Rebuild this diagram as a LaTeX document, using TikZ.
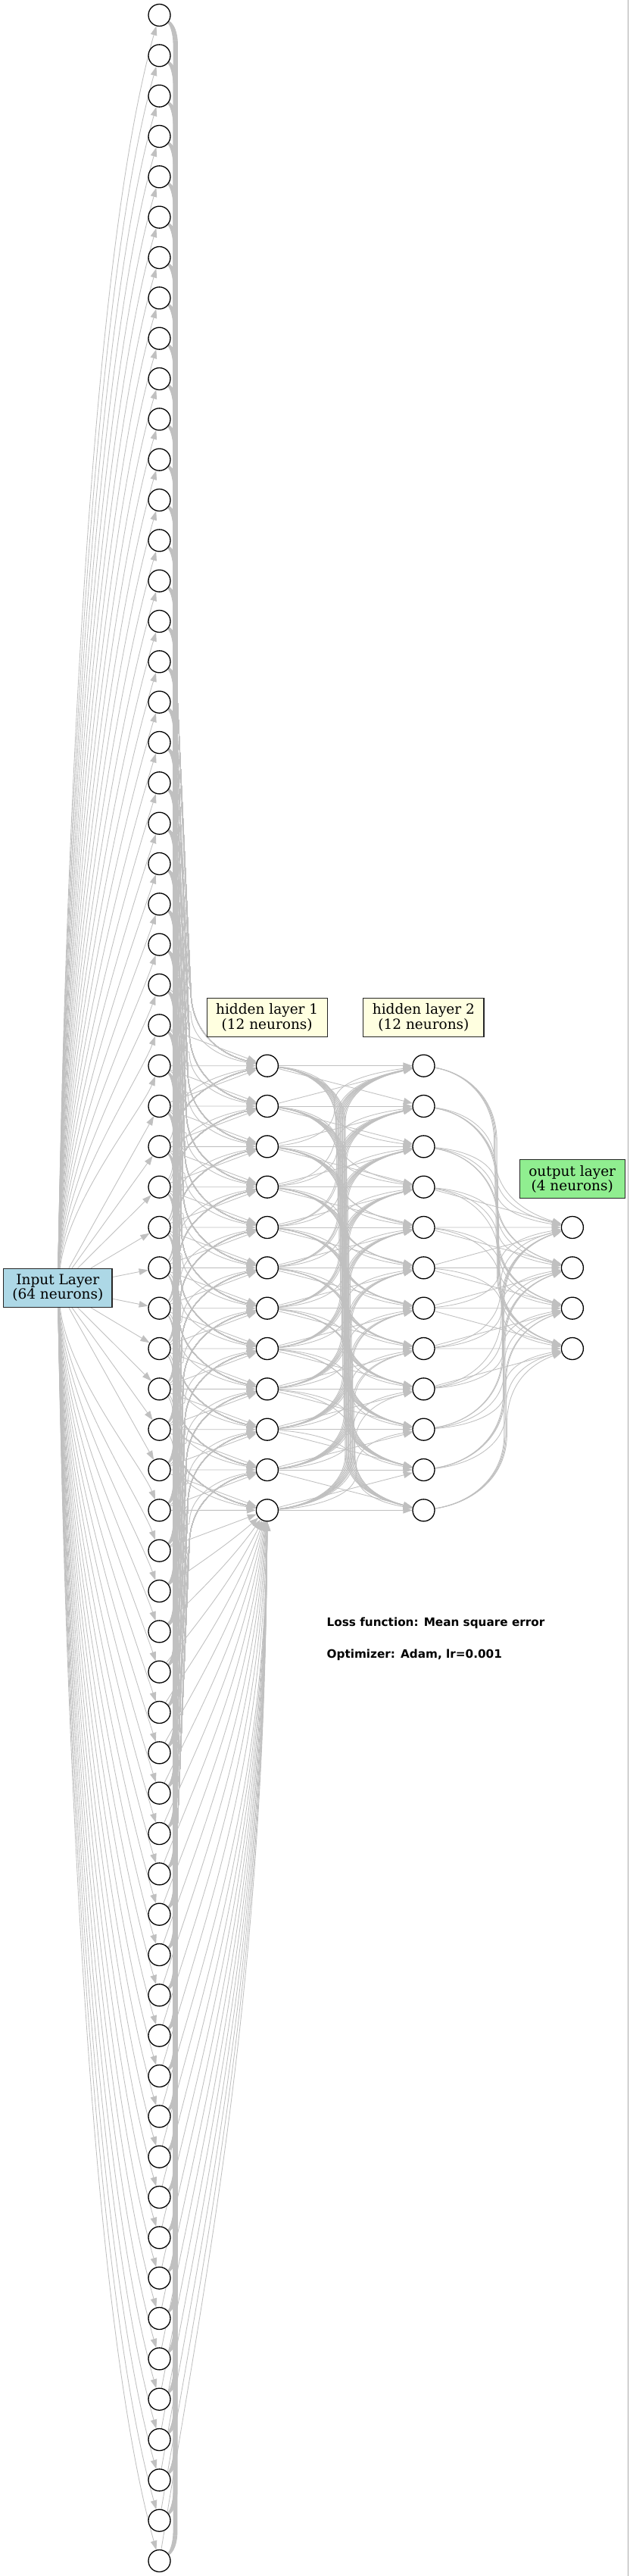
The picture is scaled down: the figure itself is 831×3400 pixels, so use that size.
\documentclass[tikz,border=0pt]{standalone}
\usepackage{fontspec}
\usepackage{graphicx}
\usetikzlibrary{arrows.meta,calc}
\newfontfamily\lblfont{DejaVu Serif}
\newfontfamily\notefont{DejaVu Sans}
\definecolor{edgecol}{RGB}{192,192,192}
\definecolor{inblue}{RGB}{173,216,230}
\definecolor{hidyellow}{RGB}{255,255,224}
\definecolor{outgreen}{RGB}{144,238,144}
\definecolor{framecol}{RGB}{170,170,170}
\pgfdeclarelayer{back}
\pgfdeclarelayer{bg}
\pgfsetlayers{back,bg,main}
\begin{document}
\begin{tikzpicture}[x=1pt,y=-1pt,
  neuron/.style={circle,draw=black,line width=1.3pt,fill=white,minimum size=29pt,inner sep=0pt},
  layerbox/.style={draw=black!85,line width=1.2pt,minimum height=51pt,inner sep=0pt,align=center,font=\lblfont\fontsize{18.5}{19.5}\selectfont},
  edge/.style={draw=edgecol,line width=0.85pt,-{Triangle[length=12pt,width=8.5pt]}},
  note/.style={anchor=base west,inner sep=0pt,font=\notefont\bfseries\fontsize{15.25}{18}\selectfont}
]
\useasboundingbox (0,0) rectangle (831,3400);
\begin{pgfonlayer}{back}
\fill[white] (0,0) rectangle (831,3400);
\draw[framecol,line width=1.2pt] (829.6,0) -- (829.6,3400);
\end{pgfonlayer}

% neurons
\foreach \i in {0,...,63} \node[neuron] (in\i) at (210.5,{20+53.3333*\i}) {};
\foreach \j in {0,...,11} {
  \node[neuron] (h\j) at (352.9,{1406.667+53.3333*\j}) {};
  \node[neuron] (g\j) at (559.5,{1406.667+53.3333*\j}) {};
}
\foreach \k in {0,...,3} \node[neuron] (o\k) at (755.9,{1620+53.3333*\k}) {};

% layer labels
\node[layerbox,fill=inblue,minimum width=143.3pt] (lbl) at (76.35,1699.8) {Input Layer\\(64 neurons)};
\node[layerbox,fill=hidyellow,minimum width=159.2pt] (lh1) at (352.7,1342.7) {hidden layer 1\\(12 neurons)};
\node[layerbox,fill=hidyellow,minimum width=159.2pt] (lh2) at (559.4,1342.7) {hidden layer 2\\(12 neurons)};
\node[layerbox,fill=outgreen,minimum width=138.8pt] (lo) at (755.7,1556.2) {output layer\\(4 neurons)};

\node[note] (loss) at (431.5,2146.7) {Loss function: Mean square error};
\node[note] (opt) at (431.5,2188.5) {Optimizer: Adam, lr=0.001};

\begin{pgfonlayer}{bg}
% label -> input neurons
\foreach \i in {0,...,63} {
  \pgfmathsetmacro\vyi{20+53.3333*\i}
  \pgfmathsetmacro\vdy{\vyi-1699.8}
  \pgfmathsetmacro\vady{abs(\vdy)}
  \ifdim\vady pt<250pt
    \draw[edge] (lbl) -- (in\i);
  \else
    \pgfmathsetmacro\vsg{\vdy/\vady}
    \pgfmathsetmacro\vH{\vady-39.5}
    \pgfmathsetmacro\vsx{76.35+134.15*25.5/\vady}
    \draw[edge] (lbl) .. controls ({\vsx+0.005*\vH},{1699.8+\vsg*(25.5+0.35*\vH)}) and ({200-0.049*\vH},{\vyi-\vsg*(10+0.19*\vH)}) .. (in\i);
  \fi
}
% input -> hidden 1
\foreach \i in {0,...,63} {
  \pgfmathsetmacro\vya{20+53.3333*\i}
  \foreach \j in {0,...,11} {
    \pgfmathtruncatemacro\vdd{\i-26-\j}
    \pgfmathsetmacro\vyb{1406.667+53.3333*\j}
    \ifnum\vdd<-1
      \pgfmathsetmacro\vdist{\vyb-\vya}
      \pgfmathsetmacro\vk{min(1,\vdist/150)}
      \pgfmathsetmacro\vA{40*\vk}
      \pgfmathsetmacro\vR{100*\vk}
      \pgfmathsetmacro\vxs{229+0.5*(11-\j)}
      \pgfmathsetmacro\vxe{230+2*(11-\j)}
      \pgfmathsetmacro\vym{max(\vya+\vA,\vyb-\vR-380)}
      \draw[edge] (in\i) .. controls ({\vxs-5},{\vya+0.3*\vA}) and (\vxs,{\vya+0.55*\vA}) .. (\vxs,{\vya+\vA}) -- (\vxs,\vym) -- (\vxe,{\vyb-\vR}) .. controls (\vxe,{\vyb-0.45*\vR}) and (290,{\vyb-0.15*\vR}) .. (h\j);
    \else
      \ifnum\vdd>1
        \ifnum\j=11
          \pgfmathsetmacro\vdist{\vya-1993.333}
          \pgfmathsetmacro\vw{min(1,\vdist/800)}
          \draw[edge] (in\i) .. controls ({253.2+25*\vw},{\vya-0.3*\vdist}) and ({352.9-64.1*(1-\vw)-3*\vw},{1993.333+0.45*\vdist}) .. (h\j);
        \else
          \pgfmathsetmacro\vdist{\vya-\vyb}
          \pgfmathsetmacro\vk{min(1,\vdist/150)}
          \pgfmathsetmacro\vA{40*\vk}
          \pgfmathsetmacro\vR{100*\vk}
          \pgfmathsetmacro\vxs{229+0.5*\j}
          \pgfmathsetmacro\vxe{230+2*\j}
          \pgfmathsetmacro\vym{min(\vya-\vA,\vyb+\vR+380)}
          \draw[edge] (in\i) .. controls ({\vxs-5},{\vya-0.3*\vA}) and (\vxs,{\vya-0.55*\vA}) .. (\vxs,{\vya-\vA}) -- (\vxs,\vym) -- (\vxe,{\vyb+\vR}) .. controls (\vxe,{\vyb+0.45*\vR}) and (290,{\vyb+0.15*\vR}) .. (h\j);
        \fi
      \else
        \draw[edge] (in\i) -- (h\j);
      \fi
    \fi
  }
}
% hidden 1 -> hidden 2
\foreach \a in {0,...,11} {
  \pgfmathsetmacro\vya{1406.667+53.3333*\a}
  \foreach \b in {0,...,11} {
    \pgfmathtruncatemacro\vdd{\b-\a}
    \pgfmathsetmacro\vyb{1406.667+53.3333*\b}
    \pgfmathsetmacro\vxm{456+1.6*(\a+\b-11)}
    \ifnum\vdd>1
      \pgfmathsetmacro\vk{min(1,(\vyb-\vya)/165)}
      \pgfmathsetmacro\vR{75*\vk}
      \draw[edge] (h\a) .. controls ({367.4+0.55*(\vxm-367.4)},{\vya+0.1*\vR}) and (\vxm,{\vya+0.45*\vR}) .. (\vxm,{\vya+\vR}) -- (\vxm,{\vyb-\vR}) .. controls (\vxm,{\vyb-0.45*\vR}) and ({545-0.55*(545-\vxm)},{\vyb-0.2*\vR}) .. (g\b);
    \else
      \ifnum\vdd<-1
        \pgfmathsetmacro\vk{min(1,(\vya-\vyb)/165)}
        \pgfmathsetmacro\vR{75*\vk}
        \draw[edge] (h\a) .. controls ({367.4+0.55*(\vxm-367.4)},{\vya-0.1*\vR}) and (\vxm,{\vya-0.45*\vR}) .. (\vxm,{\vya-\vR}) -- (\vxm,{\vyb+\vR}) .. controls (\vxm,{\vyb+0.45*\vR}) and ({545-0.55*(545-\vxm)},{\vyb+0.2*\vR}) .. (g\b);
      \else
        \draw[edge] (h\a) -- (g\b);
      \fi
    \fi
  }
}
% hidden 2 -> output
\foreach \a in {0,...,11} {
  \pgfmathsetmacro\vya{1406.667+53.3333*\a}
  \foreach \k in {0,...,3} {
    \pgfmathtruncatemacro\vdd{4+\k-\a}
    \pgfmathsetmacro\vyb{1620+53.3333*\k}
    \pgfmathsetmacro\vxm{661+1.2*(\a+\k-7)}
    \ifnum\vdd>1
      \pgfmathsetmacro\vk{min(1,(\vyb-\vya)/210)}
      \pgfmathsetmacro\vR{100*\vk}
      \draw[edge] (g\a) .. controls ({574+0.55*(\vxm-574)},{\vya+0.1*\vR}) and (\vxm,{\vya+0.45*\vR}) .. (\vxm,{\vya+\vR}) -- (\vxm,{\vyb-\vR}) .. controls (\vxm,{\vyb-0.45*\vR}) and ({741.4-0.55*(741.4-\vxm)},{\vyb-0.2*\vR}) .. (o\k);
    \else
      \ifnum\vdd<-1
        \pgfmathsetmacro\vk{min(1,(\vya-\vyb)/210)}
        \pgfmathsetmacro\vR{100*\vk}
        \draw[edge] (g\a) .. controls ({574+0.55*(\vxm-574)},{\vya-0.1*\vR}) and (\vxm,{\vya-0.45*\vR}) .. (\vxm,{\vya-\vR}) -- (\vxm,{\vyb+\vR}) .. controls (\vxm,{\vyb+0.45*\vR}) and ({741.4-0.55*(741.4-\vxm)},{\vyb+0.2*\vR}) .. (o\k);
      \else
        \draw[edge] (g\a) -- (o\k);
      \fi
    \fi
  }
}
\end{pgfonlayer}
\end{tikzpicture}
\end{document}
